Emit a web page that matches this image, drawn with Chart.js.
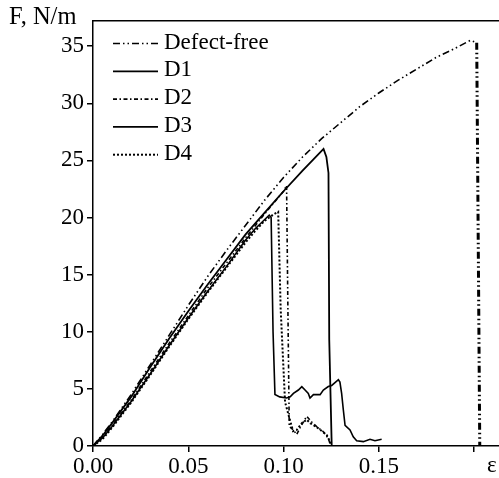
<!DOCTYPE html>
<html><head><meta charset="utf-8">
<script src="https://cdn.jsdelivr.net/npm/chart.js@4.4.0/dist/chart.umd.min.js"></script>
<style>html,body{margin:0;padding:0;background:#fff;overflow:hidden}#wrap{width:499px;height:478px;position:relative}</style>
</head><body><div id="wrap"><canvas id="c" width="499" height="478"></canvas></div>
<script>
const seriesNames = ["Defect-free", "D1", "D2", "D3", "D4"];

const epsDefectFree = [0,0.005,0.01,0.02,0.03,0.04,0.05,0.06,0.07,0.08,0.09,0.1,0.11,0.12,0.13,0.14,0.15,0.16,0.17,0.18,0.19,0.198,0.2014,0.2022,0.203];
const fDefectFree   = [0,1.0,2.1,4.5,7.1,9.7,12.3,14.8,17.1,19.3,21.5,23.5,25.3,26.9,28.3,29.7,30.9,32.0,33.0,34.0,34.8,35.5,35.3,18,0];

const epsD1 = [0,0.005,0.01,0.02,0.03,0.04,0.05,0.06,0.07,0.08,0.09,0.1,0.11,0.121,0.1225,0.1236,0.124,0.1253];
const fD1   = [0,0.9,2.0,4.3,6.9,9.4,11.8,14.1,16.3,18.5,20.4,22.3,24.1,26.0,25.3,23.9,9.3,0];

const epsD2 = [0,0.005,0.01,0.02,0.03,0.04,0.05,0.06,0.07,0.08,0.09,0.1,0.1016,0.1023,0.103,0.1052,0.1069,0.1087,0.1104,0.1122,0.1148,0.1174,0.1209,0.1235,0.1244];
const fD2   = [0,0.8,1.8,4.0,6.5,9.0,11.4,13.8,16.0,18.2,20.3,22.3,22.8,12,1.7,1.4,1.0,1.6,2.1,2.6,2.1,1.7,1.25,0.67,0.2];

const epsD3 = [0,0.005,0.01,0.02,0.03,0.04,0.05,0.06,0.07,0.08,0.085,0.09,0.0925,0.0935,0.0945,0.0955,0.098,0.1016,0.1035,0.1052,0.1078,0.1096,0.1113,0.113,0.1139,0.1157,0.1192,0.1209,0.1235,0.1253,0.1288,0.1296,0.1305,0.1314,0.1323,0.1349,0.1366,0.1384,0.1419,0.1454,0.148,0.1515];
const fD3   = [0,0.7,1.7,3.9,6.3,8.8,11.2,13.5,15.7,18.0,19.0,19.8,20.2,20.0,10,4.5,4.3,4.2,4.3,4.6,4.9,5.2,4.9,4.6,4.2,4.5,4.5,4.9,5.2,5.3,5.8,5.6,4.6,3.15,1.8,1.4,0.8,0.46,0.38,0.59,0.46,0.59];

const epsD4 = [0,0.005,0.01,0.02,0.03,0.04,0.05,0.06,0.07,0.08,0.085,0.09,0.095,0.0972,0.0985,0.1008,0.103,0.105,0.1069,0.1096,0.1122,0.114,0.1183,0.1227,0.1244,0.125];
const fD4   = [0,0.6,1.6,3.8,6.2,8.7,11.1,13.4,15.6,17.8,18.8,19.7,20.3,20.5,12,3.85,2.5,1.3,1.4,2.0,2.3,2.0,1.55,0.96,0.38,0];

const xTickValues = [0, 0.05, 0.1, 0.15, 0.2];
const xTickLabels = ["0.00", "0.05", "0.10", "0.15", ""];
const yTickValues = [0, 5, 10, 15, 20, 25, 30, 35];
const yTickLabels = ["0", "5", "10", "15", "20", "25", "30", "35"];
const xAxisTitle = "ε";
const yAxisTitle = "F, N/m";

const FONT = "'Liberation Serif', 'Times New Roman', serif";
const X_MAX = 0.2131, Y_MAX = 37.2;

function zip(xs, ys) { return xs.map((x, i) => ({x: x, y: ys[i]})); }

const styles = [
  {dash: [7, 3, 1.5, 3, 1.5, 3], width: 1.6},
  {dash: [], width: 1.8},
  {dash: [4, 2.5, 1.5, 2.5], width: 1.6},
  {dash: [], width: 1.6},
  {dash: [2, 2], width: 2}
];
const sources = [[epsDefectFree, fDefectFree], [epsD1, fD1], [epsD2, fD2], [epsD3, fD3], [epsD4, fD4]];

const datasets = sources.map((s, i) => {
  const ds = {
    label: seriesNames[i],
    data: zip(s[0], s[1]),
    borderColor: '#000',
    backgroundColor: '#000',
    borderWidth: styles[i].width,
    borderDash: styles[i].dash,
    pointRadius: 0,
    tension: 0,
    fill: false
  };
  if (i === 0) {
    const dropStart = s[0].length - 3;
    ds.segment = { borderWidth: c => c.p0DataIndex >= dropStart ? 3 : 1.6 };
  }
  return ds;
});

const overlay = {
  id: 'overlay',
  afterDraw(chart) {
    const ctx = chart.ctx;
    ctx.save();
    ctx.fillStyle = '#000';
    ctx.textBaseline = 'middle';
    ctx.textAlign = 'left';
    ctx.font = "24.5px " + FONT;
    ctx.fillText(yAxisTitle, 9, 18);
    ctx.font = "23px " + FONT;
    ctx.fillText(xAxisTitle, 487, 466);
    chart.data.datasets.forEach((ds, i) => {
      const y = 42.5 + i * 27.8;
      ctx.strokeStyle = '#000';
      ctx.lineWidth = ds.borderWidth;
      ctx.setLineDash(ds.borderDash || []);
      ctx.beginPath();
      ctx.moveTo(113, y + 1);
      ctx.lineTo(158, y + 1);
      ctx.stroke();
      ctx.setLineDash([]);
      ctx.fillText(ds.label, 164, y);
    });
    ctx.restore();
  }
};

new Chart(document.getElementById('c'), {
  type: 'line',
  data: { datasets: datasets },
  options: {
    responsive: false,
    animation: false,
    devicePixelRatio: 1,
    layout: { padding: { top: 21, right: 0, left: 0, bottom: 0 } },
    plugins: { legend: { display: false }, tooltip: { enabled: false } },
    scales: {
      x: {
        type: 'linear', position: 'bottom', min: 0, max: X_MAX,
        afterBuildTicks: s => { s.ticks = xTickValues.map(v => ({value: v})); },
        afterFit: s => { s.height = 32; },
        ticks: {
          autoSkip: false, maxRotation: 0, padding: 1, color: '#000',
          font: { family: FONT, size: 23 },
          callback: (v, i) => xTickLabels[i]
        },
        grid: { drawOnChartArea: false, drawTicks: true, tickLength: 6, color: '#000', lineWidth: 1.5 },
        border: { display: true, color: '#000', width: 1.5 }
      },
      x2: {
        type: 'linear', position: 'top', min: 0, max: X_MAX,
        afterFit: s => { s.height = 0; },
        ticks: { display: false },
        grid: { display: false, drawTicks: false },
        border: { display: true, color: '#000', width: 1.5 }
      },
      y: {
        type: 'linear', min: 0, max: Y_MAX,
        afterBuildTicks: s => { s.ticks = yTickValues.map(v => ({value: v})); },
        afterFit: s => { s.width = 93; },
        ticks: {
          padding: 3, color: '#000',
          font: { family: FONT, size: 23 },
          callback: (v, i) => yTickLabels[i]
        },
        grid: { drawOnChartArea: false, drawTicks: true, tickLength: 6, color: '#000', lineWidth: 1.5 },
        border: { display: true, color: '#000', width: 1.5 }
      }
    }
  },
  plugins: [overlay]
});
</script>
</body></html>
